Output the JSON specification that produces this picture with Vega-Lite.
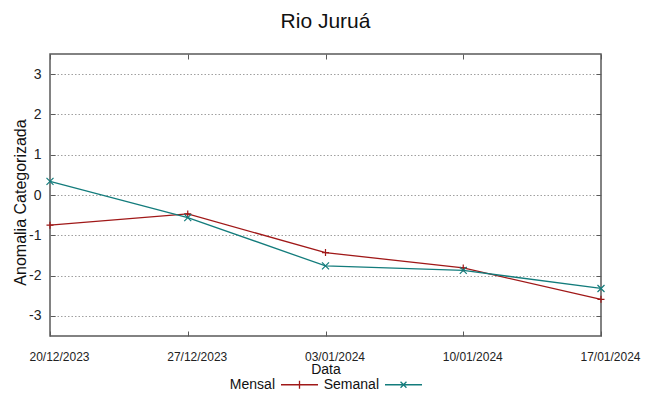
{
  "$schema": "https://vega.github.io/schema/vega-lite/v6.json",
  "width": 551,
  "height": 282,
  "autosize": {"type": "none"},
  "padding": {"left": 50, "top": 54, "right": 48, "bottom": 60},
  "background": "white",
  "title": {"text": "Rio Juruá", "font": "Liberation Sans", "fontSize": 21, "fontWeight": "normal", "color": "#111", "anchor": "middle", "baseline": "alphabetic", "offset": 5},
  "config": {"view": {"stroke": "#5a5a5a", "strokeWidth": 1.5}, "font": "Liberation Sans"},
  "data": {"values": [
    {"date": "20/12/2023", "series": "Mensal", "value": -0.75},
    {"date": "27/12/2023", "series": "Mensal", "value": -0.47},
    {"date": "03/01/2024", "series": "Mensal", "value": -1.43},
    {"date": "10/01/2024", "series": "Mensal", "value": -1.81},
    {"date": "17/01/2024", "series": "Mensal", "value": -2.59},
    {"date": "20/12/2023", "series": "Semanal", "value": 0.34},
    {"date": "27/12/2023", "series": "Semanal", "value": -0.56},
    {"date": "03/01/2024", "series": "Semanal", "value": -1.76},
    {"date": "10/01/2024", "series": "Semanal", "value": -1.87},
    {"date": "17/01/2024", "series": "Semanal", "value": -2.32}
  ]},
  "layer": [
    {
      "mark": {"type": "line", "strokeWidth": 1.3},
      "encoding": {
        "x": {"field": "date", "type": "ordinal", "sort": ["20/12/2023", "27/12/2023", "03/01/2024", "10/01/2024", "17/01/2024"], "scale": {"type": "point", "padding": 0},
          "axis": {"orient": "bottom", "title": "Data", "titleFont": "Liberation Sans", "titleFontSize": 14, "titleFontWeight": "normal", "titleColor": "#111", "titlePadding": 0,
            "labelAngle": 0, "labelFont": "Liberation Sans", "labelFontSize": 12, "labelColor": "#222", "labelPadding": 20, "labelOffset": 9,
            "ticks": true, "tickSize": -5, "tickColor": "#5a5a5a", "domain": false, "grid": false}},
        "y": {"field": "value", "type": "quantitative", "scale": {"domain": [-3.5, 3.5], "nice": false, "zero": false},
          "axis": {"orient": "left", "values": [-3, -2, -1, 0, 1, 2, 3], "labelExpr": "'' + datum.value", "title": "Anomalia Categorizada", "titleFont": "Liberation Sans", "titleFontSize": 16, "titleFontWeight": "normal", "titleColor": "#111", "titlePadding": 0, "titleY": 148,
            "labelFont": "Liberation Sans", "labelFontSize": 14, "labelColor": "#222", "labelPadding": 14,
            "ticks": true, "tickSize": -5, "tickColor": "#5a5a5a", "domain": false,
            "grid": true, "gridColor": "#a0a0a0", "gridDash": [1.5, 2], "gridWidth": 1}},
        "color": {"field": "series", "type": "nominal", "scale": {"domain": ["Mensal", "Semanal"], "range": ["#a01818", "#137c7c"]},
          "legend": {"orient": "none", "legendX": 230, "legendY": 311, "direction": "horizontal", "title": null,
            "labelFont": "Liberation Sans", "labelFontSize": 14, "labelColor": "#111", "labelAlign": "right", "labelOffset": -44,
            "symbolSize": 1369, "symbolStrokeWidth": 1.3, "columnPadding": 2,
            "encode": {"symbols": {"update": {"shape": {"signal": "datum.value === 'Mensal' ? 'M-1,0H1M0,-0.22V0.22' : 'M-1,0H1M-0.16,-0.16L0.16,0.16M-0.16,0.16L0.16,-0.16'"}, "fill": {"value": "transparent"}}}}}}
      }
    },
    {
      "transform": [{"filter": "datum.series === 'Mensal'"}],
      "mark": {"type": "point", "filled": false, "strokeWidth": 1.2, "opacity": 1, "shape": "M-1,0H1M0,-1V1", "color": "#a01818", "size": 49},
      "encoding": {
        "x": {"field": "date", "type": "ordinal", "sort": ["20/12/2023", "27/12/2023", "03/01/2024", "10/01/2024", "17/01/2024"], "scale": {"type": "point", "padding": 0},
          "axis": {"orient": "top", "title": null, "labels": false, "ticks": true, "tickSize": -5, "tickColor": "#5a5a5a", "domain": false, "grid": false}},
        "y": {"field": "value", "type": "quantitative", "scale": {"domain": [-3.5, 3.5], "nice": false, "zero": false},
          "axis": {"orient": "right", "values": [-3, -2, -1, 0, 1, 2, 3], "title": null, "labels": false, "ticks": true, "tickSize": -5, "tickColor": "#5a5a5a", "domain": false, "grid": false}}
      }
    },
    {
      "transform": [{"filter": "datum.series === 'Semanal'"}],
      "mark": {"type": "point", "filled": false, "strokeWidth": 1.2, "opacity": 1, "shape": "M-1,-1L1,1M-1,1L1,-1", "color": "#137c7c", "size": 49},
      "encoding": {
        "x": {"field": "date", "type": "ordinal", "sort": ["20/12/2023", "27/12/2023", "03/01/2024", "10/01/2024", "17/01/2024"], "scale": {"type": "point", "padding": 0}, "axis": null},
        "y": {"field": "value", "type": "quantitative", "scale": {"domain": [-3.5, 3.5], "nice": false, "zero": false}, "axis": null}
      }
    }
  ],
  "resolve": {"axis": {"x": "independent", "y": "independent"}}
}
